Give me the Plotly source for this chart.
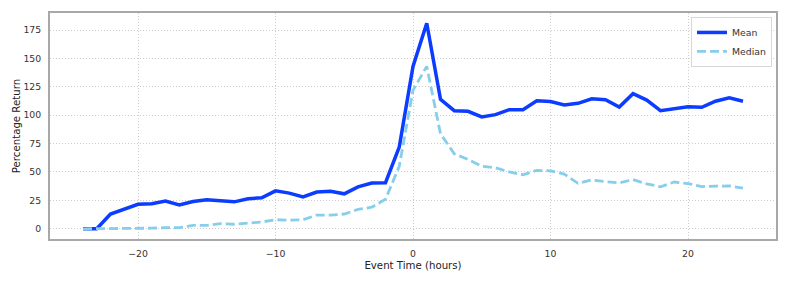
import plotly.graph_objects as go

hours = list(range(-24, 25))
mean_ret = [0, 0, 13, 17, 21.5, 22, 24.5, 21, 24, 25.5, 24.5, 23.7, 26.5, 27.3,
            33.4, 31.4, 28, 32.3, 33, 30.8, 36.9, 40.3, 40.6, 72,
            143, 181, 114, 104, 103.4, 98.5, 100.5, 104.9, 104.9, 112.7, 112,
            109, 110.5, 114.5, 113.6, 107.2, 119, 113.3, 104, 105.5, 107.5,
            107, 112.3, 115.3, 112.3]
median_ret = [0, 0, 0, 0, 0, 0.5, 1, 1, 3, 3, 4.5, 4, 5, 6, 8, 7.5, 8, 12, 12,
              13, 17, 19, 26, 55,
              122, 143, 83.7, 66, 61, 55, 53.7, 50, 47.6, 51.4, 51, 48.2, 40,
              43, 41.5, 40.4, 43.3, 39.5, 37, 41.2, 39.8, 37.2, 37.5, 37.8, 35.7]

x_ticks = [-20, -10, 0, 10, 20]
x_tick_text = ["\u221220", "\u221210", "0", "10", "20"]
y_ticks = [0, 25, 50, 75, 100, 125, 150, 175]

fig = go.Figure()
fig.add_trace(go.Scatter(x=hours, y=mean_ret, mode="lines", name="Mean",
                         line=dict(color="#0b3cff", width=3.5)))
fig.add_trace(go.Scatter(x=hours, y=median_ret, mode="lines", name="Median",
                         line=dict(color="#87ceeb", width=2.8, dash="9px,4px")))

axis_common = dict(showgrid=True, gridcolor="#cccccc", griddash="1px,2px", gridwidth=1,
                   zeroline=False, showline=True, linecolor="#a8a8a8", linewidth=2,
                   mirror=True, ticks="outside", ticklen=5, tickcolor="rgba(0,0,0,0)",
                   tickfont=dict(size=9.3, color="#333"), automargin=True,
                   title_font=dict(size=10.2, color="#222"))

fig.update_layout(
    width=789, height=282,
    margin=dict(l=50, r=12, t=11, b=43),
    paper_bgcolor="white", plot_bgcolor="white",
    font=dict(family="DejaVu Sans", size=9.3, color="#333"),
    xaxis=dict(range=[-26.4, 26.4], tickvals=x_ticks, ticktext=x_tick_text,
               title=dict(text="Event Time (hours)", standoff=4), **axis_common),
    yaxis=dict(range=[-9, 190], tickvals=y_ticks,
               title=dict(text="Percentage Return", standoff=1), **axis_common),
    legend=dict(x=0.9945, y=0.9825, xanchor="right", yanchor="top",
                bgcolor="rgba(255,255,255,0.85)", bordercolor="#d8d8d8", borderwidth=1,
                font=dict(size=9.3, color="#333"), tracegroupgap=0,
                itemwidth=30),
    showlegend=True,
)

fig.write_html("out.html", config={"displayModeBar": False},
               post_script="document.body.style.margin='0';")
